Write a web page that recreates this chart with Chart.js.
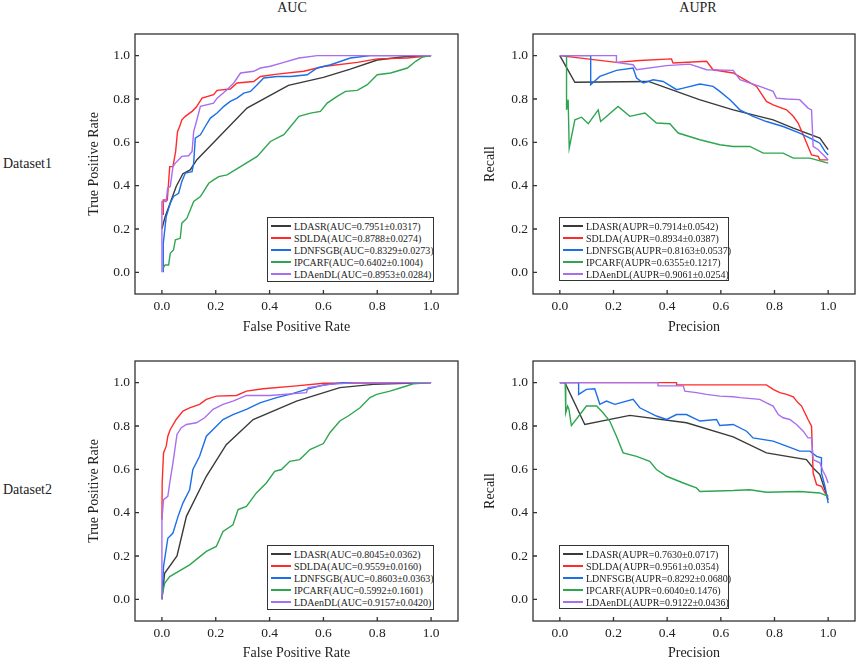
<!DOCTYPE html>
<html>
<head>
<meta charset="utf-8">
<script src="https://cdn.jsdelivr.net/npm/chart.js@4.4.0/dist/chart.umd.min.js"></script>
<style>
  body { margin: 0; background: #fff; width: 858px; height: 662px; position: relative; overflow: hidden; font-family: 'Liberation Serif', serif; color: #222; }
  canvas { position: absolute; }
  .lbl { position: absolute; font-size: 14px; line-height: 16px; white-space: nowrap; transform: translateY(-50%); }
  .ctr { transform: translate(-50%, -50%); }
  .legend { position: absolute; border: 1px solid #333; background: #fff; font-size: 10px; padding: 2px 0 0 3px; box-sizing: border-box; }
  .legend div { height: 12px; display: flex; align-items: center; white-space: nowrap; }
  .legend .ln { display: inline-block; flex: none; width: 20px; height: 2px; margin-right: 3px; }
</style>
</head>
<body>
<div class="lbl ctr" style="left:292px;top:8px">AUC</div>
<div class="lbl ctr" style="left:698px;top:8px">AUPR</div>
<div class="lbl" style="left:3px;top:164px">Dataset1</div>
<div class="lbl" style="left:3px;top:490px">Dataset2</div>

<canvas id="c1"></canvas>
<canvas id="c2"></canvas>
<canvas id="c3"></canvas>
<canvas id="c4"></canvas>

<script>
const models = ['LDASR', 'SDLDA', 'LDNFSGB', 'IPCARF', 'LDAenDL'];
const colors = ['#3a3a3a', '#ff2b2b', '#1c6fe6', '#2ea650', '#a86ef0'];
const tickVals = [0, 0.2, 0.4, 0.6, 0.8, 1.0];

// scores shown in the legends (mean±std)
const auc1  = ['0.7951±0.0317', '0.8788±0.0274', '0.8329±0.0273', '0.6402±0.1004', '0.8953±0.0284'];
const aupr1 = ['0.7914±0.0542', '0.8934±0.0387', '0.8163±0.0537', '0.6355±0.1217', '0.9061±0.0254'];
const auc2  = ['0.8045±0.0362', '0.9559±0.0160', '0.8603±0.0363', '0.5992±0.1601', '0.9157±0.0420'];
const aupr2 = ['0.7630±0.0717', '0.9561±0.0354', '0.8292±0.0680', '0.6040±0.1476', '0.9122±0.0436'];

// Dataset1 ROC  [fpr, tpr]
const roc1_LDASR = [[0,0.2],[0.012,0.257],[0.025,0.30],[0.053,0.396],[0.078,0.455],[0.105,0.473],[0.13,0.52],[0.316,0.758],[0.47,0.863],[0.6,0.9],[0.7,0.938],[0.8,0.98],[0.9,0.995],[1,1]];
const roc1_SDLDA = [[0.005,0.265],[0.005,0.334],[0.02,0.334],[0.029,0.488],[0.041,0.488],[0.051,0.558],[0.058,0.65],[0.066,0.673],[0.074,0.704],[0.087,0.72],[0.112,0.743],[0.128,0.763],[0.149,0.804],[0.192,0.82],[0.205,0.84],[0.254,0.846],[0.279,0.874],[0.341,0.881],[0.366,0.904],[0.428,0.915],[0.527,0.928],[0.6,0.95],[0.726,0.969],[0.8,0.985],[0.912,0.989],[1,1]];
const roc1_LDNFSGB = [[0.005,0],[0.005,0.134],[0.016,0.257],[0.031,0.319],[0.043,0.35],[0.062,0.365],[0.074,0.419],[0.087,0.458],[0.112,0.465],[0.118,0.504],[0.124,0.619],[0.143,0.635],[0.161,0.673],[0.18,0.712],[0.205,0.735],[0.23,0.766],[0.254,0.789],[0.279,0.804],[0.304,0.827],[0.329,0.835],[0.354,0.866],[0.378,0.897],[0.428,0.904],[0.478,0.904],[0.54,0.912],[0.577,0.943],[0.627,0.958],[0.70,0.989],[0.775,1],[1,1]];
const roc1_IPCARF = [[0.005,0.02],[0.012,0.034],[0.025,0.034],[0.031,0.088],[0.043,0.103],[0.05,0.15],[0.068,0.157],[0.074,0.227],[0.093,0.25],[0.118,0.327],[0.143,0.35],[0.174,0.411],[0.192,0.427],[0.211,0.442],[0.242,0.45],[0.292,0.488],[0.354,0.535],[0.403,0.604],[0.453,0.635],[0.478,0.673],[0.509,0.72],[0.552,0.735],[0.589,0.743],[0.614,0.781],[0.651,0.812],[0.682,0.835],[0.726,0.84],[0.763,0.866],[0.8,0.912],[0.85,0.92],[0.912,0.943],[0.943,0.974],[0.968,0.994],[1,1]];
const roc1_LDAenDL = [[0,0],[0,0.327],[0.016,0.327],[0.021,0.388],[0.031,0.396],[0.041,0.488],[0.05,0.504],[0.074,0.535],[0.099,0.538],[0.112,0.558],[0.118,0.65],[0.13,0.704],[0.143,0.766],[0.192,0.781],[0.205,0.804],[0.242,0.843],[0.267,0.874],[0.292,0.92],[0.341,0.928],[0.366,0.943],[0.403,0.951],[0.453,0.969],[0.509,0.989],[0.577,1],[1,1]];

// Dataset1 PR  [precision, recall]
const pr1_LDASR = [[0,1],[0.056,0.877],[0.33,0.881],[0.52,0.797],[0.646,0.75],[0.795,0.704],[0.87,0.666],[0.969,0.62],[1,0.566]];
const pr1_SDLDA = [[0,1],[0.211,0.969],[0.298,0.978],[0.416,0.985],[0.422,0.966],[0.547,0.974],[0.571,0.935],[0.646,0.92],[0.689,0.889],[0.733,0.858],[0.77,0.789],[0.795,0.773],[0.845,0.75],[0.87,0.72],[0.888,0.689],[0.907,0.635],[0.925,0.581],[0.938,0.542],[0.963,0.535],[0.969,0.519],[1,0.519]];
const pr1_LDNFSGB = [[0,1],[0.115,1],[0.115,0.866],[0.149,0.904],[0.211,0.932],[0.273,0.943],[0.286,0.897],[0.311,0.874],[0.348,0.889],[0.385,0.881],[0.435,0.843],[0.46,0.85],[0.522,0.869],[0.571,0.858],[0.596,0.835],[0.634,0.797],[0.671,0.75],[0.72,0.72],[0.77,0.696],[0.832,0.673],[0.894,0.643],[0.944,0.612],[0.969,0.596],[0.988,0.558],[1,0.542]];
const pr1_IPCARF = [[0.025,1],[0.025,0.75],[0.031,0.797],[0.035,0.573],[0.056,0.704],[0.081,0.716],[0.106,0.686],[0.143,0.75],[0.152,0.696],[0.217,0.766],[0.261,0.72],[0.317,0.735],[0.36,0.689],[0.41,0.686],[0.441,0.643],[0.522,0.612],[0.596,0.589],[0.646,0.581],[0.708,0.581],[0.758,0.55],[0.832,0.55],[0.87,0.527],[0.932,0.527],[1,0.504]];
const pr1_LDAenDL = [[0,1],[0.211,1],[0.211,0.969],[0.273,0.958],[0.286,0.935],[0.398,0.954],[0.484,0.961],[0.547,0.935],[0.646,0.932],[0.671,0.889],[0.745,0.858],[0.795,0.835],[0.807,0.804],[0.845,0.8],[0.894,0.797],[0.925,0.758],[0.938,0.75],[0.944,0.581],[0.963,0.566],[0.988,0.535],[1,0.519]];

// Dataset2 ROC
const roc2_LDASR = [[0,0],[0.01,0.12],[0.056,0.2],[0.091,0.383],[0.165,0.568],[0.239,0.714],[0.339,0.83],[0.5,0.915],[0.661,0.977],[0.785,0.992],[1,1]];
const roc2_SDLDA = [[0,0.367],[0.001,0.537],[0.006,0.676],[0.016,0.707],[0.022,0.753],[0.031,0.784],[0.053,0.83],[0.078,0.869],[0.103,0.884],[0.14,0.9],[0.165,0.923],[0.202,0.938],[0.277,0.941],[0.314,0.961],[0.376,0.972],[0.5,0.985],[0.6,0.997],[1,1]];
const roc2_LDNFSGB = [[0,0],[0.006,0.151],[0.022,0.282],[0.041,0.306],[0.06,0.383],[0.078,0.444],[0.103,0.506],[0.115,0.599],[0.14,0.66],[0.165,0.753],[0.202,0.799],[0.227,0.83],[0.264,0.853],[0.314,0.877],[0.364,0.907],[0.426,0.931],[0.475,0.946],[0.537,0.969],[0.6,0.989],[0.674,1],[1,1]];
const roc2_IPCARF = [[0,0.01],[0.01,0.074],[0.029,0.105],[0.103,0.159],[0.165,0.221],[0.202,0.244],[0.227,0.313],[0.264,0.344],[0.283,0.414],[0.314,0.429],[0.351,0.491],[0.388,0.537],[0.419,0.591],[0.444,0.599],[0.475,0.637],[0.512,0.645],[0.55,0.691],[0.6,0.719],[0.624,0.769],[0.661,0.823],[0.692,0.846],[0.736,0.884],[0.773,0.931],[0.798,0.946],[0.847,0.961],[0.897,0.98],[0.934,0.995],[1,1]];
const roc2_LDAenDL = [[0,0],[0,0.367],[0.006,0.46],[0.022,0.475],[0.029,0.537],[0.041,0.63],[0.056,0.761],[0.072,0.792],[0.091,0.807],[0.128,0.815],[0.159,0.838],[0.19,0.877],[0.227,0.9],[0.264,0.915],[0.314,0.941],[0.401,0.941],[0.537,0.954],[0.543,0.977],[0.624,0.992],[0.723,1],[1,1]];

// Dataset2 PR
const pr2_LDASR = [[0,1],[0.019,1],[0.093,0.807],[0.261,0.849],[0.472,0.815],[0.646,0.75],[0.77,0.676],[0.919,0.645],[0.944,0.606],[0.969,0.576],[0.988,0.506],[1,0.46]];
const pr2_SDLDA = [[0,1],[0.435,1],[0.435,0.99],[0.77,0.99],[0.795,0.969],[0.82,0.954],[0.845,0.946],[0.87,0.935],[0.888,0.907],[0.901,0.892],[0.913,0.861],[0.925,0.83],[0.938,0.799],[0.944,0.583],[0.957,0.529],[0.975,0.522],[0.988,0.491],[1,0.475]];
const pr2_LDNFSGB = [[0,1],[0.07,1],[0.07,0.946],[0.099,0.969],[0.13,0.972],[0.149,0.9],[0.174,0.915],[0.205,0.9],[0.273,0.923],[0.298,0.884],[0.36,0.846],[0.398,0.83],[0.435,0.853],[0.472,0.853],[0.522,0.823],[0.584,0.83],[0.596,0.802],[0.646,0.807],[0.696,0.776],[0.72,0.745],[0.795,0.73],[0.845,0.707],[0.894,0.684],[0.932,0.684],[0.957,0.66],[0.975,0.653],[0.975,0.583],[0.988,0.522],[1,0.444]];
const pr2_IPCARF = [[0.02,1],[0.022,0.861],[0.029,0.892],[0.034,0.877],[0.043,0.802],[0.075,0.853],[0.099,0.892],[0.137,0.892],[0.161,0.861],[0.186,0.823],[0.211,0.753],[0.236,0.676],[0.286,0.66],[0.335,0.637],[0.36,0.599],[0.398,0.568],[0.46,0.537],[0.509,0.514],[0.522,0.498],[0.646,0.502],[0.708,0.506],[0.77,0.494],[0.894,0.498],[0.969,0.491],[1,0.475]];
const pr2_LDAenDL = [[0,1],[0.366,1],[0.366,0.985],[0.46,0.985],[0.466,0.961],[0.509,0.954],[0.547,0.946],[0.596,0.938],[0.646,0.935],[0.671,0.931],[0.745,0.923],[0.77,0.907],[0.795,0.892],[0.814,0.853],[0.832,0.838],[0.857,0.83],[0.882,0.807],[0.907,0.776],[0.925,0.745],[0.938,0.745],[0.944,0.645],[0.969,0.63],[0.981,0.591],[0.991,0.568],[1,0.537]];

const FONT = 'Liberation Serif';

// box + inward tick marks
const framePlugin = {
  id: 'frame',
  afterDraw(chart) {
    const { ctx, chartArea: a, scales: { x, y } } = chart;
    ctx.save();
    ctx.strokeStyle = '#333';
    ctx.lineWidth = 1.3;
    ctx.strokeRect(a.left, a.top, a.right - a.left, a.bottom - a.top);
    ctx.beginPath();
    x.ticks.forEach(t => {
      const px = x.getPixelForValue(t.value);
      ctx.moveTo(px, a.bottom); ctx.lineTo(px, a.bottom - 4);
    });
    y.ticks.forEach(t => {
      const py = y.getPixelForValue(t.value);
      ctx.moveTo(a.left, py); ctx.lineTo(a.left + 4, py);
    });
    ctx.stroke();
    ctx.restore();
  }
};

function axis(title, size, titlePad, isX) {
  return {
    type: 'linear', min: -0.1, max: 1.1,
    afterBuildTicks: s => { s.ticks = tickVals.map(v => ({ value: v })); },
    ticks: { callback: v => v.toFixed(1), font: { family: FONT, size: 13.5 }, color: '#222', padding: isX ? 4 : 5, maxRotation: 0, autoSkip: false },
    grid: { display: false, drawTicks: false },
    border: { display: false },
    title: { display: true, text: title, font: { family: FONT, size: 14 }, color: '#222', padding: titlePad },
    afterFit: s => {
      if (isX) s.height = size; else s.width = size;
      s.paddingTop = 0; s.paddingBottom = 0; s.paddingLeft = 0; s.paddingRight = 0;
    }
  };
}

function makePanel(id, p, series, labels, xTitle, yTitle, lg) {
  const cv = document.getElementById(id);
  cv.width = p.w; cv.height = p.h;
  cv.style.left = p.left + 'px'; cv.style.top = p.top + 'px';
  cv.style.width = p.w + 'px'; cv.style.height = p.h + 'px';

  new Chart(cv, {
    type: 'line',
    data: {
      datasets: series.map((pts, i) => ({
        label: models[i] + labels[i],
        data: pts.map(q => ({ x: q[0], y: q[1] })),
        borderColor: colors[i],
        borderWidth: 1.4,
        pointRadius: 0,
        fill: false,
        tension: 0,
        order: series.length - i
      }))
    },
    options: {
      responsive: false,
      animation: false,
      parsing: false,
      layout: { padding: p.pad },
      plugins: { legend: { display: false }, tooltip: { enabled: false } },
      scales: {
        x: axis(xTitle, p.xh, { top: 0, bottom: p.tpb }, true),
        y: axis(yTitle, p.yw, { top: 4, bottom: 0 }, false)
      }
    },
    plugins: [framePlugin]
  });

  // legend box
  const box = document.createElement('div');
  box.className = 'legend';
  Object.assign(box.style, { left: lg[0] + 'px', top: lg[1] + 'px', width: lg[2] + 'px', height: lg[3] + 'px' });
  labels.forEach((l, i) => {
    const row = document.createElement('div');
    row.innerHTML = `<span class="ln" style="background:${colors[i]}"></span><span>${models[i]}${l}</span>`;
    box.appendChild(row);
  });
  document.body.appendChild(box);
}

const fmt = (k, arr) => arr.map(s => `(${k}=${s})`);

makePanel('c1', { left: 60, top: 26, w: 410, h: 318, pad: { left: 22, right: 12, top: 8, bottom: 4 }, yw: 53, xh: 46, tpb: 4 },
  [roc1_LDASR, roc1_SDLDA, roc1_LDNFSGB, roc1_IPCARF, roc1_LDAenDL], fmt('AUC', auc1),
  'False Positive Rate', 'True Positive Rate', [267, 217, 167, 65]);

makePanel('c2', { left: 470, top: 26, w: 388, h: 318, pad: { left: 8, right: 3, top: 8, bottom: 4 }, yw: 55, xh: 46, tpb: 4 },
  [pr1_LDASR, pr1_SDLDA, pr1_LDNFSGB, pr1_IPCARF, pr1_LDAenDL], fmt('AUPR', aupr1),
  'Precision', 'Recall', [559, 217, 170, 64]);

makePanel('c3', { left: 60, top: 353, w: 410, h: 309, pad: { left: 22, right: 12, top: 8, bottom: 0 }, yw: 53, xh: 41, tpb: 0 },
  [roc2_LDASR, roc2_SDLDA, roc2_LDNFSGB, roc2_IPCARF, roc2_LDAenDL], fmt('AUC', auc2),
  'False Positive Rate', 'True Positive Rate', [267, 545, 167, 65]);

makePanel('c4', { left: 470, top: 353, w: 388, h: 309, pad: { left: 8, right: 3, top: 8, bottom: 0 }, yw: 55, xh: 41, tpb: 0 },
  [pr2_LDASR, pr2_SDLDA, pr2_LDNFSGB, pr2_IPCARF, pr2_LDAenDL], fmt('AUPR', aupr2),
  'Precision', 'Recall', [559, 545, 170, 64]);
</script>
</body>
</html>
